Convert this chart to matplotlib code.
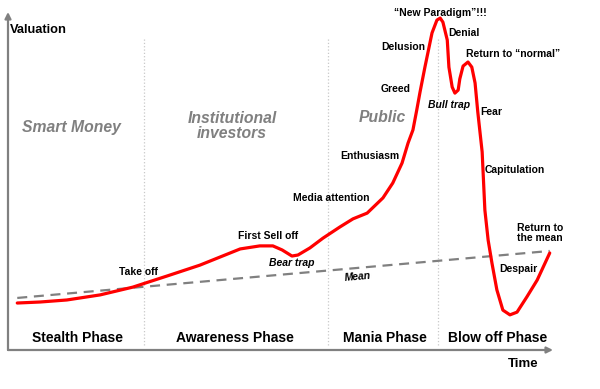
import matplotlib
matplotlib.use("Agg")
import matplotlib.pyplot as plt

plt.rcParams['font.family'] = ['Liberation Sans', 'DejaVu Sans']

# Bubble curve (time 0-100, valuation 0-100)
time = [1.7, 5.9, 10.8, 16.9, 22.9, 29.2, 35.2, 42.6, 46.2, 48.6, 50.3, 52.1,
        53.2, 55.4, 57.8, 60.9, 63.3, 65.9, 68.8, 70.6, 72.3, 73.4, 74.3, 75.0,
        75.6, 76.5, 77.8, 78.7, 79.3, 79.8, 80.6, 80.9, 81.5, 82.0, 82.6, 82.9,
        83.5, 84.4, 85.1, 85.7, 86.2, 87.0, 87.5, 88.1, 88.8, 89.7, 90.8, 92.1,
        93.4, 95.2, 97.1, 99.4]
valuation = [13.9, 14.2, 14.8, 16.3, 18.6, 21.9, 25.1, 29.9, 30.8, 30.8, 29.6, 27.8,
             28.1, 30.2, 33.1, 36.4, 38.8, 40.5, 45.0, 49.4, 55.3, 61.2, 65.1, 71.0,
             76.3, 83.7, 93.8, 97.6, 98.2, 97.0, 91.7, 83.7, 77.8, 76.0, 76.9, 80.2,
             84.0, 85.2, 83.7, 79.0, 70.4, 58.6, 41.4, 32.5, 25.7, 17.8, 11.8, 10.4,
             11.2, 15.7, 20.7, 28.7]

mean_time = [1.7, 99.4]
mean_val = [15.4, 29.3]

phase_bounds = [25.0, 58.7, 78.9]
phases = ["Stealth Phase", "Awareness Phase", "Mania Phase", "Blow off Phase"]
phase_centers = [12.7, 41.7, 69.2, 89.9]

# who is buying (grey italic headings)
actors = ["Smart Money", "Institutional\ninvestors", "Public"]
actor_pos = [(11.7, 65.7), (41.1, 66.3), (68.6, 68.9)]

# stage labels along the curve
stages = ["Take off", "First Sell off", "Media attention", "Enthusiasm", "Greed",
          "Delusion", "\u201cNew Paradigm\u201d!!!", "Denial", "Return to \u201cnormal\u201d",
          "Fear", "Capitulation", "Return to\nthe mean", "Despair"]
stage_pos = [(23.9, 23.1), (47.7, 33.7), (59.3, 45.0), (66.4, 57.4), (71.2, 77.2),
             (72.5, 89.6), (79.4, 99.7), (83.7, 93.8), (92.7, 87.6),
             (88.6, 70.4), (93.0, 53.3), (97.6, 34.6), (93.6, 24.0)]

fig = plt.figure(figsize=(6, 3.89), dpi=100)
ax = fig.add_axes([8 / 600, 39 / 389, 545 / 600, 338 / 389])
ax.set_xlim(0, 100)
ax.set_ylim(0, 100)
ax.axis('off')

grey = '#808080'

# axes with arrows
ax.annotate('', xy=(100, 0), xytext=(0, 0),
            arrowprops=dict(arrowstyle='-|>', color=grey, lw=1.6, mutation_scale=9, shrinkA=0, shrinkB=0))
ax.annotate('', xy=(0, 100), xytext=(0, 0),
            arrowprops=dict(arrowstyle='-|>', color=grey, lw=1.6, mutation_scale=9, shrinkA=0, shrinkB=0))

# phase separators
for b in phase_bounds:
    ax.plot([b, b], [1.5, 92.6], color='#c8c8c8', lw=0.9, ls=':')

# mean and bubble
ax.plot(mean_time, mean_val, color=grey, lw=1.6, ls=(0, (4.5, 3)))
ax.plot(time, valuation, color='#ff0000', lw=2.3, solid_joinstyle='round',
        solid_capstyle='round', clip_on=False)

ax.text(0.4, 94.7, "Valuation", fontsize=9.3, fontweight='bold', ha='left', va='center')
ax.text(94.5, -4.1, "Time", fontsize=9.5, fontweight='bold', ha='center', va='center', clip_on=False)

for name, x in zip(phases, phase_centers):
    ax.text(x, 3.6, name, fontsize=10, fontweight='bold', ha='center', va='center')

for name, (x, y) in zip(actors, actor_pos):
    ax.text(x, y, name, fontsize=11.3, fontweight='bold', style='italic', color=grey,
            ha='center', va='center', linespacing=1.0)

for name, (x, y) in zip(stages, stage_pos):
    ax.text(x, y, name, fontsize=7.5, fontweight='bold', ha='center', va='center',
            linespacing=1.1)

ax.text(52.1, 25.7, "Bear trap", fontsize=7.5, fontweight='bold', style='italic',
        ha='center', va='center')
ax.text(80.9, 72.5, "Bull trap", fontsize=7.5, fontweight='bold', style='italic',
        ha='center', va='center')
ax.text(64.2, 21.6, "Mean", fontsize=7.5, fontweight='bold', style='italic',
        ha='center', va='center', rotation=5)

fig.savefig("out.png", dpi=100)
